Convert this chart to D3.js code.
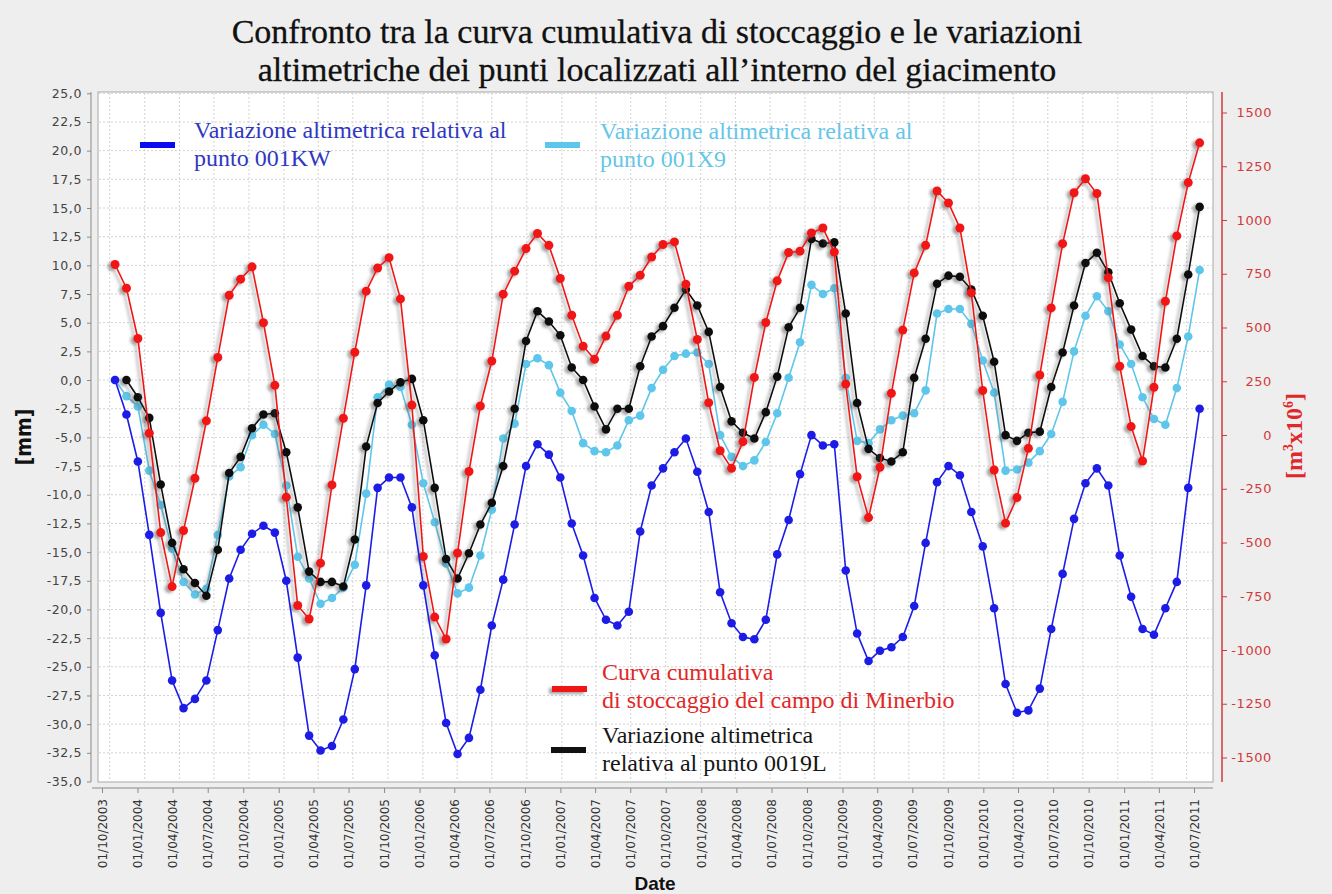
<!DOCTYPE html>
<html>
<head>
<meta charset="utf-8">
<script src="https://cdn.jsdelivr.net/npm/d3@7"></script>
<style>
  body { margin: 0; background: #eeeeee; }
  svg { display: block; }
</style>
</head>
<body>
<svg id="chart" width="1332" height="894"></svg>
<script>
// ---- Data -----------------------------------------------------------------
// Survey cadence: one acquisition roughly every 30 days from mid-October 2003
const firstSample = new Date(2003, 9, 15);
const sampleCount = 96;
const sampleDates = d3.range(sampleCount).map(i => d3.timeDay.offset(firstSample, 30 * i));

// Vertical displacement of point 001KW [mm]
const point001KW = [
  0.0, -3.0, -7.1, -13.5, -20.3, -26.2, -28.6, -27.8, -26.2, -21.8,
  -17.3, -14.8, -13.4, -12.7, -13.3, -17.5, -24.2, -31.0, -32.3, -31.9,
  -29.6, -25.2, -17.9, -9.4, -8.5, -8.5, -11.1, -17.9, -24.0, -29.9,
  -32.6, -31.2, -27.0, -21.4, -17.4, -12.6, -7.5, -5.6, -6.5, -8.5,
  -12.5, -15.3, -19.0, -20.9, -21.4, -20.2, -13.2, -9.2, -7.7, -6.3,
  -5.1, -8.0, -11.5, -18.5, -21.2, -22.4, -22.6, -20.9, -15.2, -12.2,
  -8.2, -4.8, -5.7, -5.6, -16.6, -22.1, -24.5, -23.6, -23.3, -22.4,
  -19.7, -14.2, -8.9, -7.5, -8.3, -11.5, -14.5, -19.9, -26.5, -29.0,
  -28.8, -26.9, -21.7, -16.9, -12.1, -9.0, -7.7, -9.2, -15.3, -18.9,
  -21.7, -22.2, -19.9, -17.6, -9.4, -2.5
];

// Vertical displacement of point 001X9 [mm]
const point001X9 = [
  0.0, -1.4, -2.3, -7.9, -10.9, -14.7, -17.6, -18.7, -18.2, -13.5,
  -8.4, -7.6, -4.8, -3.9, -4.7, -9.2, -15.4, -17.3, -19.5, -19.0,
  -18.1, -16.1, -9.9, -1.5, -0.4, -0.6, -3.9, -9.0, -12.4, -16.0,
  -18.6, -18.1, -15.3, -11.3, -5.1, -3.8, 1.4, 1.9, 1.3, -1.1,
  -2.7, -5.5, -6.2, -6.3, -5.7, -3.5, -3.1, -0.7, 0.9, 2.1,
  2.3, 2.4, 1.4, -4.8, -6.7, -7.5, -7.0, -5.4, -2.9, 0.2,
  3.3, 8.3, 7.5, 8.0, 0.2, -5.3, -5.5, -4.3, -3.5, -3.1,
  -2.9, -0.9, 5.8, 6.2, 6.2, 4.9, 1.7, -1.1, -7.9, -7.8,
  -7.2, -6.2, -4.7, -1.9, 2.5, 5.6, 7.3, 6.0, 3.1, 1.4,
  -1.5, -3.4, -3.9, -0.7, 3.8, 9.6
];

// Vertical displacement of point 0019L [mm] (first acquisition missing)
const point0019L = [
  null, 0.0, -1.5, -3.3, -9.1, -14.2, -16.5, -17.7, -18.8, -14.8,
  -8.1, -6.7, -4.2, -3.0, -2.9, -6.3, -11.1, -16.7, -17.6, -17.6,
  -18.0, -13.9, -5.8, -2.0, -1.0, -0.2, 0.1, -3.5, -9.4, -15.6,
  -17.3, -15.1, -12.6, -10.7, -7.5, -2.5, 3.4, 6.0, 5.1, 3.9,
  1.1, 0.0, -2.3, -4.3, -2.5, -2.5, 1.2, 3.8, 4.7, 6.3,
  7.9, 6.5, 4.2, -0.6, -3.6, -4.6, -5.1, -2.8, 0.3, 4.6,
  6.3, 12.3, 11.9, 12.0, 5.8, -2.0, -6.0, -6.8, -7.1, -6.3,
  0.2, 3.6, 8.4, 9.1, 9.0, 7.9, 5.6, 1.6, -4.8, -5.3,
  -4.6, -4.5, -0.6, 2.4, 6.5, 10.2, 11.1, 9.4, 6.7, 4.4,
  2.1, 1.2, 1.1, 3.6, 9.2, 15.1
];

// Cumulative storage curve of the Minerbio field [m3 x 10^6]
const storageMinerbio = [
  793, 683, 449, 8, -454, -705, -444, -201, 66, 361,
  650, 725, 782, 522, 231, -289, -793, -856, -596, -232,
  78, 385, 669, 777, 825, 633, 139, -565, -847, -949,
  -549, -170, 135, 344, 655, 762, 867, 937, 882, 728,
  557, 413, 352, 460, 557, 692, 743, 828, 886, 898,
  701, 444, 150, -73, -155, -31, 268, 523, 717, 849,
  855, 940, 963, 851, 237, -194, -384, -150, 194, 488,
  754, 882, 1135, 1079, 963, 661, 207, -163, -410, -291,
  -62, 279, 591, 890, 1127, 1192, 1123, 731, 320, 39,
  -121, 222, 622, 926, 1174, 1359
];

// Axis ranges and tick steps
const leftDomain = [-35, 25];
const leftStep = 2.5;
const rightDomain = [-1500, 1500];
const rightStep = 250;
const timeDomain = [new Date(2003, 9, 1), new Date(2011, 6, 1)];

// Text
const titleLines = [
  "Confronto tra la curva cumulativa di stoccaggio e le variazioni",
  "altimetriche dei punti localizzati all\u2019interno del giacimento"
];
const legend001KW = ["Variazione altimetrica relativa al", "punto 001KW"];
const legend001X9 = ["Variazione altimetrica relativa al", "punto 001X9"];
const legendStorage = ["Curva cumulativa", "di stoccaggio del campo di Minerbio"];
const legend0019L = ["Variazione altimetrica", "relativa al punto 0019L"];

// ---- Layout & styles ------------------------------------------------------
const plot = { left: 98, right: 1213, top: 92, bottom: 782 };
const colors = {
  blue: "#1c1ce6", light: "#5ec6ea", red: "#f01414", black: "#111111",
  blueText: "#3038c0", lightText: "#66c6e6", redText: "#e02828", axisRed: "#d23a3a"
};
const serif = "'Liberation Serif', 'Times New Roman', serif";
const sans = "'DejaVu Sans', Verdana, sans-serif";

const itLocale = d3.formatLocale({ decimal: ",", thousands: ".", grouping: [3], currency: ["", "\u20ac"], minus: "-" });
const fmtLeft = itLocale.format(".1f");
const fmtRight = itLocale.format("d");
const fmtDate = d3.timeFormat("%d/%m/%Y");

const svg = d3.select("#chart");

// Scales: the plotting time base (data + grid) and the labelled date axis
const x = d3.scaleTime().domain(timeDomain).range([109.7, 1186.7]);
const xLabels = d3.scaleTime().domain(timeDomain).range([102, 1194]);
const yL = d3.scaleLinear().domain(leftDomain).range([781.5, 93.3]);
const yR = d3.scaleLinear().domain(rightDomain).range([757.5, 112.5]);

// Shadow used under the storage and 0019L series
const defs = svg.append("defs");
const f = defs.append("filter").attr("id", "shadow")
  .attr("filterUnits", "userSpaceOnUse").attr("x", 0).attr("y", 0)
  .attr("width", 1332).attr("height", 894);
f.append("feDropShadow").attr("dx", -3).attr("dy", 2).attr("stdDeviation", 1.8)
  .attr("flood-color", "#555").attr("flood-opacity", 0.55);

// ---- Title ----------------------------------------------------------------
svg.append("g").selectAll("text").data(titleLines).join("text")
  .attr("x", 657).attr("y", (d, i) => 43 + i * 38)
  .attr("text-anchor", "middle")
  .style("font-family", serif).style("font-size", "34px").style("fill", "#111")
  .style("stroke", "#111").style("stroke-width", 0.3)
  .text(d => d);

// ---- Plot background & grid ----------------------------------------------
svg.append("rect")
  .attr("x", plot.left).attr("y", plot.top)
  .attr("width", plot.right - plot.left).attr("height", plot.bottom - plot.top)
  .attr("fill", "#ffffff").attr("stroke", "#a8a8a8").attr("stroke-width", 1);

const quarterTicks = x.ticks(d3.timeMonth.every(3));
const grid = svg.append("g").attr("stroke", "#d2d2d2").attr("stroke-dasharray", "2,2").attr("stroke-width", 1);
grid.selectAll("line.v").data(quarterTicks).join("line").attr("class", "v")
  .attr("x1", d => x(d)).attr("x2", d => x(d))
  .attr("y1", plot.top + 1).attr("y2", plot.bottom - 1);
const leftTicks = d3.range(leftDomain[0], leftDomain[1] + 0.001, leftStep);
grid.selectAll("line.h").data(leftTicks).join("line").attr("class", "h")
  .attr("x1", plot.left + 1).attr("x2", plot.right - 1)
  .attr("y1", d => yL(d)).attr("y2", d => yL(d));

// ---- Axes -----------------------------------------------------------------
// Left axis [mm]
const gLeft = svg.append("g").attr("transform", "translate(91,0)")
  .call(d3.axisLeft(yL).tickValues(leftTicks).tickFormat(fmtLeft).tickSize(4).tickPadding(5));
gLeft.select(".domain").remove();
gLeft.append("line").attr("y1", plot.top).attr("y2", plot.bottom).attr("stroke", "#8a8a8a");
gLeft.selectAll(".tick line").attr("stroke", "#8a8a8a");
gLeft.selectAll(".tick text").style("font-family", sans).style("font-size", "12.5px")
  .style("letter-spacing", "0.6px").style("fill", "#444");

// Right axis [m3 x 10^6]
const rightTicks = d3.range(rightDomain[0], rightDomain[1] + 1, rightStep);
const gRight = svg.append("g").attr("transform", "translate(1222,0)")
  .call(d3.axisRight(yR).tickValues(rightTicks).tickFormat(fmtRight).tickSize(5));
gRight.select(".domain").remove();
gRight.append("line").attr("y1", plot.top).attr("y2", plot.bottom)
  .attr("stroke", colors.axisRed).attr("stroke-width", 1.5);
gRight.selectAll(".tick line").attr("stroke", colors.axisRed);
gRight.selectAll(".tick text").attr("x", 50).attr("text-anchor", "end")
  .style("font-family", sans).style("font-size", "13px").style("letter-spacing", "0.6px")
  .style("fill", colors.axisRed);

// Bottom date axis
const gBottom = svg.append("g").attr("transform", "translate(0,788)")
  .call(d3.axisBottom(xLabels).ticks(d3.timeMonth.every(3)).tickFormat(fmtDate).tickSize(5));
gBottom.select(".domain").remove();
gBottom.append("line").attr("x1", 92).attr("x2", plot.right).attr("stroke", "#8a8a8a");
gBottom.selectAll(".tick line").attr("stroke", "#8a8a8a");
gBottom.selectAll(".tick text")
  .attr("transform", "rotate(-90)").attr("text-anchor", "end")
  .attr("x", -11).attr("y", 0).attr("dy", "0.35em")
  .style("font-family", sans).style("font-size", "12px").style("fill", "#333");

// Axis titles
svg.append("text").attr("transform", "translate(31,437) rotate(-90)")
  .attr("text-anchor", "middle")
  .style("font-family", "'Liberation Sans Narrow', 'DejaVu Sans Condensed', Arial, sans-serif")
  .style("font-weight", "bold").style("font-size", "21px").style("fill", "#111")
  .text("[mm]");

const rTitle = svg.append("text").attr("transform", "translate(1302,436) rotate(-90)")
  .attr("text-anchor", "middle")
  .style("font-family", serif).style("font-weight", "bold").style("font-size", "24px")
  .style("fill", colors.redText);
rTitle.append("tspan").text("[m");
rTitle.append("tspan").attr("dy", -9).style("font-size", "14px").text("3");
rTitle.append("tspan").attr("dy", 9).text("x10");
rTitle.append("tspan").attr("dy", -9).style("font-size", "14px").text("6");
rTitle.append("tspan").attr("dy", 9).text("]");

svg.append("text").attr("x", 655).attr("y", 890).attr("text-anchor", "middle")
  .style("font-family", "'Liberation Sans', Arial, sans-serif").style("font-weight", "bold")
  .style("font-size", "19px").style("fill", "#111").text("Date");

// ---- Series ---------------------------------------------------------------
function drawSeries(values, yScale, color, r, shadow) {
  const pts = sampleDates.map((d, i) => ({ d, v: values[i] })).filter(p => p.v !== null);
  const g = svg.append("g");
  if (shadow) g.attr("filter", "url(#shadow)");
  g.append("path").datum(pts)
    .attr("d", d3.line().x(p => x(p.d)).y(p => yScale(p.v)))
    .attr("fill", "none").attr("stroke", color).attr("stroke-width", 1.6);
  g.selectAll("circle").data(pts).join("circle")
    .attr("cx", p => x(p.d)).attr("cy", p => yScale(p.v)).attr("r", r)
    .attr("fill", color);
}

drawSeries(point001X9, yL, colors.light, 4.3, false);
drawSeries(point0019L, yL, colors.black, 4.3, true);
drawSeries(storageMinerbio, yR, colors.red, 4.5, true);
drawSeries(point001KW, yL, colors.blue, 4.3, false);

// ---- Legends --------------------------------------------------------------
function legend(lines, sx, sy, tx, ty, swatchColor, textColor, shadow) {
  const g = svg.append("g");
  const sw = g.append("rect").attr("x", sx).attr("y", sy).attr("width", 35).attr("height", 6)
    .attr("fill", swatchColor);
  if (shadow) sw.attr("filter", "url(#shadow)");
  g.selectAll("text").data(lines).join("text")
    .attr("x", tx).attr("y", (d, i) => ty + i * 27.5)
    .style("font-family", serif).style("font-size", "24px").style("fill", textColor)
    .text(d => d);
}
legend(legend001KW, 140, 142, 194, 138, "#0a0af0", colors.blueText, false);
legend(legend001X9, 545, 142, 600, 139, colors.light, colors.lightText, false);
legend(legendStorage, 552, 686, 602, 680, colors.red, colors.redText, true);
legend(legend0019L, 551, 747, 602, 743, colors.black, "#161616", false);
</script>
</body>
</html>
